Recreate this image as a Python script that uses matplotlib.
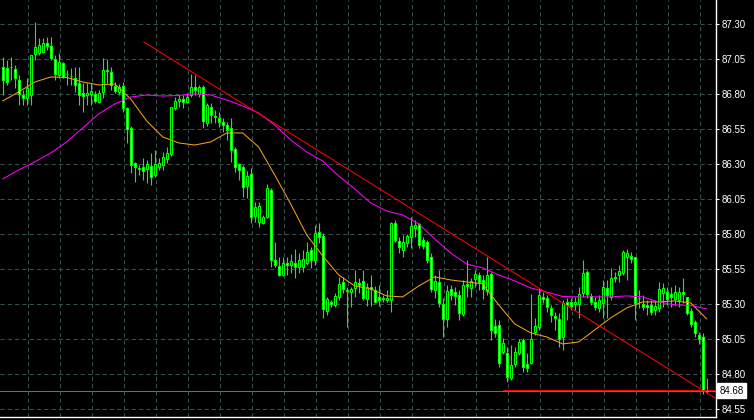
import matplotlib
matplotlib.use("Agg")
import matplotlib.pyplot as plt
from matplotlib.transforms import blended_transform_factory

OUTPUT_PATH = "out.png"

# OHLC per bar (bar index = position on the chart)
opens = [86.995, 86.985, 86.992, 86.978, 86.900, 86.792, 86.771, 86.792, 87.085, 87.092,
         87.100, 87.164, 87.142, 87.050, 86.935, 87.021, 86.942, 86.928, 86.914, 86.878,
         86.807, 86.792, 86.800, 86.800, 86.742, 86.814, 86.971, 86.957, 86.857, 86.814,
         86.857, 86.700, 86.557, 86.307, 86.271, 86.278, 86.264, 86.285, 86.221, 86.278,
         86.292, 86.335, 86.371, 86.700, 86.750, 86.764, 86.742, 86.792, 86.850, 86.800,
         86.850, 86.592, 86.707, 86.642, 86.628, 86.600, 86.578, 86.557, 86.407, 86.300,
         86.278, 86.142, 86.228, 85.928, 85.885, 85.878, 85.921, 86.114, 85.614, 85.571,
         85.507, 85.592, 85.578, 85.592, 85.564, 85.564, 85.592, 85.685, 85.614, 85.814,
         85.785, 85.250, 85.314, 85.292, 85.350, 85.457, 85.400, 85.385, 85.414, 85.450,
         85.464, 85.335, 85.421, 85.400, 85.350, 85.343, 85.328, 85.328, 85.878, 85.750,
         85.685, 85.735, 85.778, 85.843, 85.871, 85.757, 85.742, 85.635, 85.400, 85.457,
         85.300, 85.193, 85.407, 85.385, 85.364, 85.228, 85.443, 85.414, 85.478, 85.507,
         85.471, 85.392, 85.514, 85.143, 85.150, 84.957, 84.950, 84.771, 84.871, 84.950,
         85.042, 84.871, 84.878, 85.100, 85.135, 85.350, 85.343, 85.271, 85.214, 85.193,
         85.064, 85.314, 85.314, 85.300, 85.300, 85.378, 85.528, 85.357, 85.314, 85.271,
         85.307, 85.414, 85.350, 85.492, 85.507, 85.521, 85.635, 85.642, 85.635, 85.343,
         85.300, 85.293, 85.293, 85.257, 85.271, 85.378, 85.385, 85.371, 85.335, 85.328,
         85.385, 85.350, 85.250, 85.171, 85.078, 85.064, 84.685]
highs = [87.066, 87.042, 87.064, 87.007, 86.935, 86.828, 86.914, 87.078, 87.314, 87.200,
         87.200, 87.207, 87.207, 87.078, 87.092, 87.028, 86.971, 86.985, 86.992, 86.992,
         86.878, 86.878, 86.878, 86.821, 86.828, 87.057, 87.050, 86.992, 86.885, 86.871,
         86.885, 86.707, 86.571, 86.314, 86.292, 86.342, 86.328, 86.378, 86.400, 86.342,
         86.385, 86.421, 86.707, 86.778, 86.792, 86.792, 86.807, 86.942, 86.935, 86.864,
         86.864, 86.735, 86.735, 86.685, 86.671, 86.628, 86.600, 86.628, 86.421, 86.307,
         86.292, 86.250, 86.271, 86.028, 86.028, 85.935, 86.157, 86.128, 85.742, 85.635,
         85.635, 85.635, 85.657, 85.692, 85.664, 85.685, 85.742, 85.707, 85.864, 85.878,
         85.807, 85.350, 85.328, 85.378, 85.493, 85.493, 85.421, 85.421, 85.542, 85.485,
         85.542, 85.450, 85.507, 85.428, 85.435, 85.364, 85.400, 85.885, 85.900, 85.778,
         85.792, 85.800, 85.921, 85.900, 85.878, 85.778, 85.757, 85.664, 85.507, 85.542,
         85.343, 85.435, 85.435, 85.421, 85.400, 85.471, 85.614, 85.485, 85.542, 85.528,
         85.507, 85.635, 85.528, 85.193, 85.185, 85.057, 84.993, 85.007, 84.993, 85.050,
         85.057, 84.950, 85.371, 85.200, 85.414, 85.385, 85.364, 85.292, 85.243, 85.235,
         85.328, 85.343, 85.343, 85.350, 85.421, 85.614, 85.542, 85.378, 85.350, 85.364,
         85.471, 85.471, 85.557, 85.528, 85.578, 85.685, 85.692, 85.671, 85.635, 85.400,
         85.364, 85.328, 85.328, 85.328, 85.457, 85.450, 85.421, 85.421, 85.435, 85.421,
         85.485, 85.350, 85.271, 85.185, 85.100, 85.093, 84.771]
lows = [86.792, 86.864, 86.900, 86.843, 86.721, 86.721, 86.721, 86.721, 87.042, 87.078,
        87.092, 87.114, 87.042, 86.900, 86.914, 86.914, 86.864, 86.864, 86.814, 86.721,
        86.671, 86.721, 86.721, 86.735, 86.735, 86.771, 86.878, 86.828, 86.807, 86.792,
        86.671, 86.450, 86.235, 86.171, 86.221, 86.185, 86.164, 86.150, 86.207, 86.257,
        86.257, 86.307, 86.357, 86.685, 86.707, 86.700, 86.735, 86.778, 86.792, 86.778,
        86.557, 86.571, 86.592, 86.592, 86.564, 86.528, 86.471, 86.314, 86.243, 86.185,
        86.064, 86.057, 85.878, 85.885, 85.850, 85.871, 85.914, 85.564, 85.564, 85.500,
        85.500, 85.507, 85.521, 85.485, 85.521, 85.528, 85.578, 85.557, 85.578, 85.735,
        85.200, 85.221, 85.278, 85.278, 85.328, 85.378, 85.135, 85.278, 85.350, 85.378,
        85.328, 85.285, 85.285, 85.307, 85.285, 85.314, 85.314, 85.243, 85.742, 85.664,
        85.635, 85.707, 85.700, 85.778, 85.700, 85.692, 85.592, 85.385, 85.343, 85.278,
        85.064, 85.135, 85.328, 85.292, 85.185, 85.214, 85.350, 85.350, 85.421, 85.400,
        85.335, 85.364, 85.042, 85.064, 84.850, 84.943, 84.743, 84.757, 84.850, 84.935,
        84.814, 84.814, 84.871, 85.078, 85.114, 85.307, 85.243, 85.171, 85.114, 84.993,
        84.971, 85.185, 85.257, 85.257, 85.200, 85.350, 85.343, 85.292, 85.257, 85.243,
        85.200, 85.200, 85.328, 85.457, 85.457, 85.507, 85.471, 85.592, 85.185, 85.271,
        85.257, 85.221, 85.221, 85.221, 85.243, 85.278, 85.292, 85.278, 85.292, 85.278,
        85.307, 85.221, 85.135, 85.064, 85.014, 84.657, 84.664]
closes = [86.900, 86.885, 86.989, 86.914, 86.800, 86.771, 86.843, 87.078, 87.135, 87.150,
          87.164, 87.142, 87.057, 86.942, 87.028, 86.921, 86.939, 86.925, 86.864, 86.792,
          86.785, 86.807, 86.821, 86.750, 86.807, 86.971, 86.964, 86.864, 86.821, 86.850,
          86.700, 86.550, 86.292, 86.278, 86.264, 86.250, 86.300, 86.207, 86.300, 86.307,
          86.350, 86.378, 86.707, 86.750, 86.764, 86.742, 86.778, 86.850, 86.828, 86.850,
          86.607, 86.721, 86.650, 86.635, 86.600, 86.578, 86.542, 86.400, 86.278, 86.257,
          86.135, 86.214, 85.921, 85.993, 86.000, 85.921, 86.128, 85.614, 85.578, 85.507,
          85.592, 85.578, 85.607, 85.564, 85.614, 85.621, 85.671, 85.614, 85.807, 85.778,
          85.264, 85.335, 85.300, 85.357, 85.443, 85.407, 85.392, 85.407, 85.457, 85.435,
          85.343, 85.421, 85.407, 85.314, 85.328, 85.335, 85.343, 85.878, 85.757, 85.707,
          85.742, 85.785, 85.857, 85.864, 85.721, 85.714, 85.614, 85.407, 85.464, 85.307,
          85.193, 85.392, 85.364, 85.357, 85.235, 85.435, 85.428, 85.464, 85.514, 85.457,
          85.407, 85.507, 85.114, 85.093, 84.878, 85.021, 84.778, 84.864, 84.957, 85.028,
          84.850, 84.843, 85.050, 85.143, 85.364, 85.335, 85.278, 85.221, 85.200, 85.050,
          85.307, 85.292, 85.285, 85.314, 85.371, 85.521, 85.371, 85.314, 85.278, 85.328,
          85.421, 85.364, 85.485, 85.485, 85.535, 85.671, 85.664, 85.621, 85.307, 85.339,
          85.278, 85.278, 85.243, 85.285, 85.407, 85.414, 85.335, 85.350, 85.385, 85.385,
          85.371, 85.235, 85.157, 85.093, 85.050, 84.685, 84.680]

# moving averages read every 4th bar
ma_bars = list(range(0, 177, 4))
ma_fast = [86.750, 86.814, 86.885, 86.921, 86.918, 86.885, 86.864, 86.871, 86.764, 86.607,
           86.493, 86.450, 86.435, 86.457, 86.521, 86.521, 86.421, 86.221, 86.014, 85.793,
           85.643, 85.507, 85.428, 85.407, 85.357, 85.350, 85.428, 85.493, 85.471, 85.457,
           85.443, 85.293, 85.157, 85.093, 85.064, 85.014, 85.028, 85.114, 85.200, 85.271,
           85.314, 85.314, 85.321, 85.307, 85.193]
ma_slow = [86.192, 86.257, 86.314, 86.378, 86.457, 86.557, 86.657, 86.728, 86.778, 86.792,
           86.785, 86.789, 86.800, 86.792, 86.757, 86.714, 86.664, 86.578, 86.471, 86.385,
           86.321, 86.214, 86.121, 86.021, 85.964, 85.935, 85.871, 85.764, 85.664, 85.585,
           85.557, 85.507, 85.464, 85.414, 85.385, 85.353, 85.350, 85.350, 85.350, 85.357,
           85.350, 85.314, 85.293, 85.289, 85.264]

# trend line (bar, price) and horizontal levels
trend_bars = [35.3, 178.1]
trend_prices = [87.171, 84.628]
level_start_bar = 125
level_price = 84.684
bid_price = 84.68

price_ticks = [84.55, 84.80, 85.05, 85.30, 85.55, 85.80, 86.05, 86.30, 86.55, 86.80, 87.05, 87.30]

CANDLE = "#00ff00"
GRID = "#36524e"


def draw_chart():
    fig = plt.figure(figsize=(7.54, 4.2), dpi=100, facecolor="black")
    ax = fig.add_axes([0, 3 / 420, 716 / 754, 417 / 420], facecolor="black")

    bars = range(len(closes))
    ax.vlines(bars, lows, highs, color=CANDLE, linewidth=0.8, zorder=2)
    bottoms = [min(o, c) for o, c in zip(opens, closes)]
    heights = [abs(c - o) for o, c in zip(opens, closes)]
    faces = ["white" if c < o else "black" for o, c in zip(opens, closes)]
    ax.bar(bars, heights, bottom=bottoms, width=0.5, color=faces,
           edgecolor=CANDLE, linewidth=0.8, zorder=3)

    ax.plot(ma_bars, ma_fast, color="#f0a020", linewidth=0.75, zorder=4)
    ax.plot(ma_bars, ma_slow, color="#ff00ff", linewidth=0.75, zorder=4)
    ax.plot(trend_bars, trend_prices, color="#ff0000", linewidth=0.75, zorder=5)

    ax.axhline(bid_price - 0.005, color="#5f7777", linewidth=0.7, zorder=1)
    ax.plot([level_start_bar, 178.5], [level_price, level_price],
            color="#ff0000", linewidth=0.7, zorder=5)

    ax.set_xlim(-0.675, 178.33)
    ax.set_ylim(84.492, 87.471)

    ax.set_xticks([6.25 + 8 * k for k in range(22)])
    ax.set_xticklabels([])
    ax.tick_params(axis="x", length=0)
    ax.yaxis.tick_right()
    ax.set_yticks(price_ticks)
    ax.set_yticklabels([f"{p:.2f}" for p in price_ticks])
    ax.tick_params(axis="y", colors="white", direction="out", length=2.2,
                   width=0.75, pad=2.2, labelsize=7)
    for lbl in ax.get_yticklabels():
        lbl.set_family("Liberation Sans")
    ax.grid(True, color=GRID, linewidth=0.75, linestyle=(0, (4, 3)), zorder=0)

    for side in ("left", "top"):
        ax.spines[side].set_visible(False)
    for side in ("right", "bottom"):
        ax.spines[side].set_color("white")
        ax.spines[side].set_linewidth(1)

    trans = blended_transform_factory(ax.transAxes, ax.transData)
    ax.text(1.005, bid_price, f"{bid_price:.2f}", transform=trans, color="black",
            fontsize=7, family="Liberation Sans", va="center", ha="left",
            bbox=dict(boxstyle="square,pad=0.25", facecolor="white", edgecolor="white"),
            clip_on=False, zorder=10)

    fig.savefig(OUTPUT_PATH, dpi=100, facecolor="black")
    plt.close(fig)


if __name__ == "__main__":
    draw_chart()
